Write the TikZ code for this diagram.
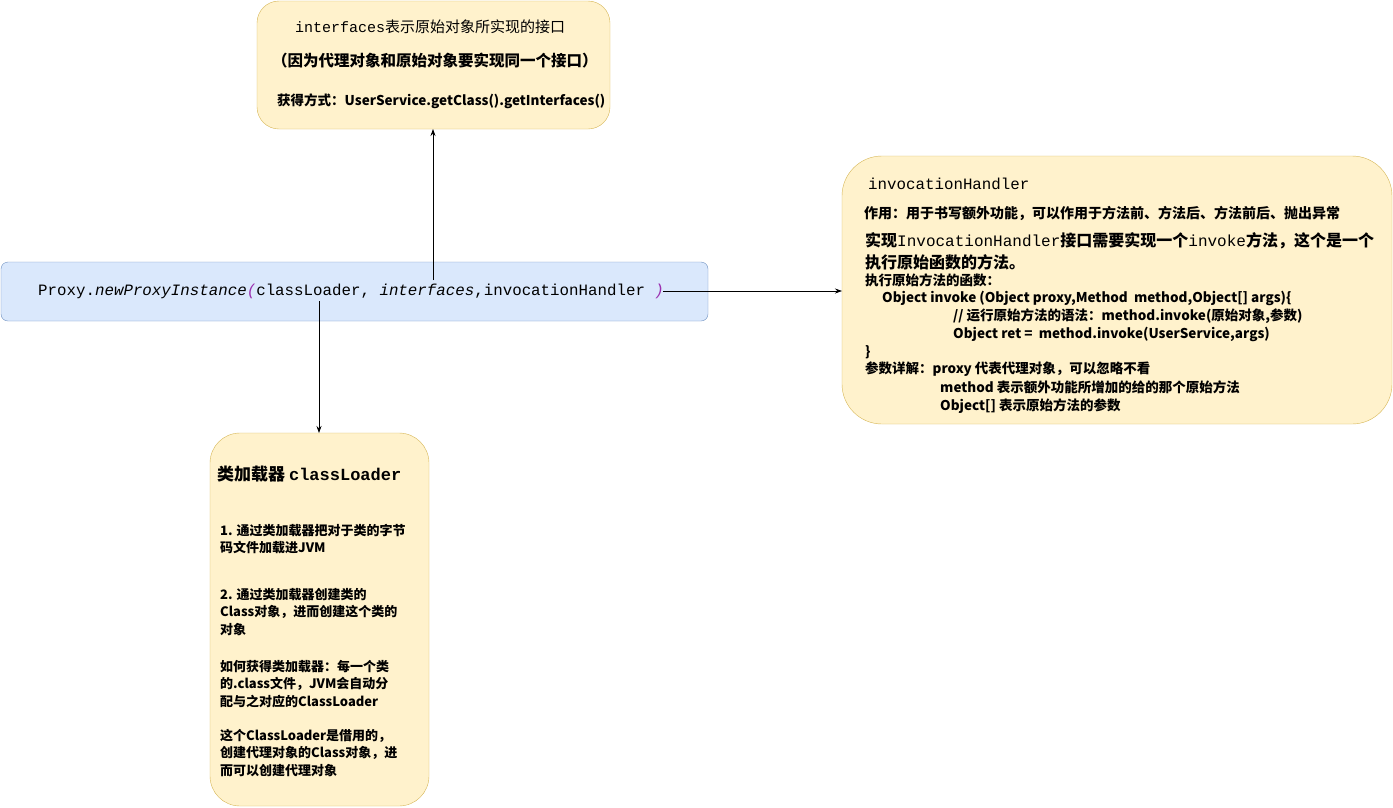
\documentclass[tikz,border=0pt]{standalone}
\usepackage{fontspec}
\setmainfont{Noto Sans CJK SC}
\newfontfamily\cjk{Noto Sans CJK SC}
\newfontfamily\mymono{Liberation Mono}
\usetikzlibrary{arrows.meta}
\definecolor{yf}{HTML}{FFF2CC}\definecolor{yd}{HTML}{D6B656}
\definecolor{bf}{HTML}{DAE8FC}\definecolor{bd}{HTML}{6C8EBF}
\definecolor{pur}{HTML}{9B30B0}
\begin{document}
\begin{tikzpicture}[x=1pt,y=-1pt,
 ybox/.style={draw=yd,fill=yf,rounded corners=22pt},
 t/.style={anchor=west,inner sep=0,font=\fontsize{13.5}{15}\selectfont\bfseries},
 bl/.style={anchor=north west,inner sep=0,align=left,font=\fontsize{13}{17.5}\selectfont\bfseries},
 arr/.style={-{Stealth[length=7pt,width=5pt]},line width=0.7pt}]
\useasboundingbox (0,0) rectangle (1393,807);
\draw[ybox] (257,1) rectangle (610,129);
\draw[draw=bd,fill=bf,rounded corners=7pt] (1,262) rectangle (708,321);
\draw[ybox,rounded corners=40pt] (842,156) rectangle (1392,424);
\draw[ybox,rounded corners=30pt] (210,433) rectangle (429,806);
% top box
\node[t,font=\fontsize{15}{17}\selectfont] (t1) at (295,27) {{\mymono interfaces}表示原始对象所实现的接口};
\node[t,font=\fontsize{15.5}{17}\selectfont\bfseries] (t2) at (272,61) {（因为代理对象和原始对象要实现同一个接口）};
\node[t] (t3) at (277,101) {获得方式：UserService.getClass().getInterfaces()};
% proxy
\node[anchor=west,inner sep=0,font=\mymono\fontsize{15.8}{17}\selectfont] (p) at (38,291) {Proxy.\textit{newProxyInstance}{\color{pur}\textit{(}}classLoader, \textit{interfaces},invocationHandler {\color{pur}\textit{)}}};
\coordinate (pa) at (433,280);
\coordinate (pb) at (319,301);
\coordinate (pc) at (663,291);
% right box
\node[t,font=\mymono\fontsize{15.8}{17}\selectfont] (r1) at (868,184) {invocationHandler};
\node[t,font=\fontsize{14}{16}\selectfont\bfseries] (r2) at (864,213) {作用：用于书写额外功能，可以作用于方法前、方法后、方法前后、抛出异常};
\node[t,font=\fontsize{16}{18}\selectfont\bfseries] (r3) at (865,241) {实现{\mymono\mdseries InvocationHandler}接口需要实现一个{\mymono\mdseries invoke}方法，这个是一个};
\node[t,font=\fontsize{16}{18}\selectfont\bfseries] (r4) at (865,262) {执行原始函数的方法。};
\node[t] (r5) at (865,280) {执行原始方法的函数：};
\node[t] (r6) at (882,298) {Object invoke (Object proxy,Method\ \ method,Object[] args)\{};
\node[t] (r7) at (953,316) {// 运行原始方法的语法：method.invoke(原始对象,参数)};
\node[t] (r8) at (953,334) {Object ret =\ \ method.invoke(UserService,args)};
\node[t] (r9) at (865,352) {\}};
\node[t] (r10) at (865,369) {参数详解：proxy 代表代理对象，可以忽略不看};
\node[t] (r11) at (940,387) {method 表示额外功能所增加的给的那个原始方法};
\node[t] (r12) at (940,406) {Object[] 表示原始方法的参数};
% bottom box
\node[t,font=\fontsize{17}{19}\selectfont\bfseries] (b1) at (217,474) {类加载器 {\mymono classLoader}};
\node[bl] (b2) at (220,524) {1. 通过类加载器把对于类的字节\\码文件加载进JVM};
\node[bl] (b3) at (220,588) {2. 通过类加载器创建类的\\Class对象，进而创建这个类的\\对象};
\node[bl] (b4) at (220,660) {如何获得类加载器：每一个类\\的.class文件，JVM会自动分\\配与之对应的ClassLoader};
\node[bl] (b5) at (220,729) {这个ClassLoader是借用的，\\创建代理对象的Class对象，进\\而可以创建代理对象};
\coordinate (tb) at (433,129);
\coordinate (bt) at (319,433);
\coordinate (rl) at (842,291);
\draw[arr] (pa) -- (tb);
\draw[arr] (pb) -- (bt);
\draw[arr] (pc) -- (rl);
\end{tikzpicture}
\end{document}
